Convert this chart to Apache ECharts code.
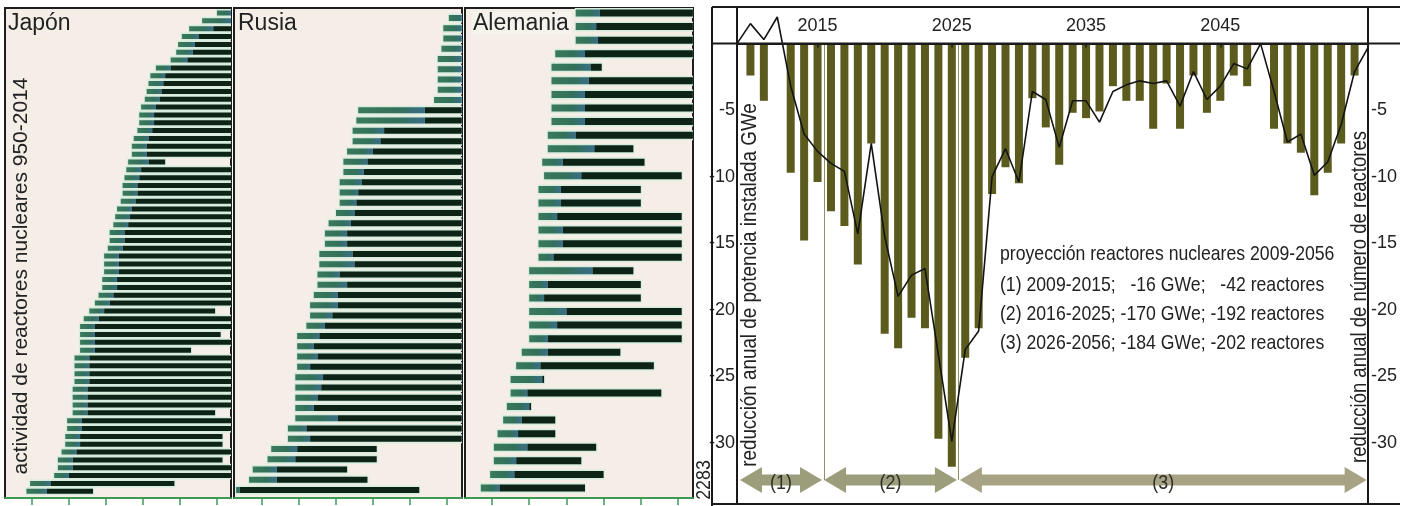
<!DOCTYPE html>
<html><head><meta charset="utf-8">
<script src="https://cdn.jsdelivr.net/npm/echarts@6/dist/echarts.min.js"></script>
<style>html,body{margin:0;padding:0;background:#fff}#c{width:1408px;height:506px}</style>
</head><body><div id="c"></div>
<script>
// ---------- left panels: reactor activity (years) ----------
const panelTicks = [1960, 1970, 1980, 1990, 2000, 2010];

const jpStart = [2010,2006,2002.5,2000.5,1999.5,1999,1997.5,1993.5,1992,1991.5,
  1991,1990.5,1989.5,1989,1989,1988.5,1987.5,1987,1987,1986,
  1985.5,1985,1984.5,1984.5,1984,1983,1982.5,1982,1981,1981,
  1980.5,1979.5,1979.5,1979.5,1979,1979,1978,1977,1975.5,1974,
  1973,1973,1973,1973,1971.5,1971.5,1971.5,1971.5,1971,1971,
  1971,1971,1969.5,1969.5,1969,1969,1968,1967,1967,1966,
  1959.5,1958.5];
const jpOp = [2014,2014,2009,2005,2004,2003.5,2002,1997.5,1996,1995.5,
  1995,1994.5,1993.5,1993,1993,1992.5,1991.5,1991,1991,1991.5,
  1989.5,1989,1988.5,1988.5,1988,1987,1986.5,1986,1985,1985,
  1984.5,1983.5,1983.5,1983.5,1983,1983,1982,1981,1979.5,1978,
  1977,1977,1977,1977,1975.5,1975.5,1975.5,1975.5,1975,1975,
  1975,1975,1973.5,1973.5,1973,1973,1972,1971,1971,1970,
  1965,1964];
const jpEnd = [2014,2014,2014,2014,2014,2014,2014,2014,2014,2014,
  2014,2014,2014,2014,2014,2014,2014,2014,2014,1996,
  2014,2014,2014,2014,2014,2014,2014,2014,2014,2014,
  2014,2014,2014,2014,2014,2014,2014,2014,2009.5,2014,
  2014,2011,2014,2003,2014,2014,2014,2014,2014,2014,
  2014,2009.5,2014,2014,2011.5,2011.5,2014,2011.5,2014,2014,
  1998.5,1976.5];

const ruStart = [2010.5,2009,2009,2008.5,2007.5,2007.5,2007.5,2007.5,2006.5,1986,
  1985.5,1984.5,1984.5,1983,1982,1982,1981,1981,1981,1980,
  1978,1977,1977,1975.5,1975.5,1975,1975,1974,1973,1973,
  1972,1969.5,1969.5,1969.5,1969.5,1969,1969,1969,1969,1969,
  1967,1967,1962.5,1961.5,1957.5,1956.5,1953];
const ruOp = [2014,2014,2014,2014,2014,2014,2014,2014,2014,2004,
  2004,1993,1992,1990,1988.5,1987.5,1987,1986,1985.5,1985,
  1984,1983,1983,1984.5,1985,1981,1983,1980.5,1980.5,1979,
  1977,1975.5,1974,1975,1973,1976.5,1976,1975,1974,1980.5,
  1972,1973,1969.5,1969,1964,1964,1954];
const ruEnd = [2014,2014,2014,2014,2014,2014,2014,2014,2014,2014,
  2014,2014,2014,2014,2014,2014,2014,2014,2014,2014,
  2014,2014,2014,2014,2014,2014,2014,2014,2014,2014,
  2014,2014,2014,2014,2014,2014,2014,2014,2014,2014,
  2014,2014,1991,1991,1983,1988.5,2002.5];

const deStart = [1982.5,1982.5,1982.5,1977,1976,1976,1976,1976,1976,1975,
  1975,1973.5,1974,1972.5,1972.5,1972.5,1972.5,1972.5,1972.5,1970,
  1970,1970,1970,1970,1970,1968,1966.5,1965,1965,1964,
  1963,1961.5,1960.5,1960.5,1959.5,1957];
const deOp = [1989,1988,1988.5,1985,1986.5,1986,1985,1985,1985,1982.5,
  1987.5,1979,1984,1978.5,1978.5,1977.5,1979,1979,1976.5,1987,
  1975,1974,1980,1977.5,1975,1975,1973,1973.5,1969.5,1970,
  1968,1967,1969.5,1966.5,1966,1962];
const deEnd = [2014,2014,2014,2014,1989.5,2014,2014,2014,2014,2014,
  1998,2001,2011,2000,2000,2011,2011,2011,2011,1998,
  2000,2000,2011,2011,2011,1994.5,2003.5,1974,2005.5,1970.5,
  1977,1977,1988,1984,1990,1985];

// ---------- right chart ----------
const barYears = [2010,2011,2012,2013,2014,2015,2016,2017,2018,2019,
  2020,2021,2022,2023,2024,2025,2026,2027,2028,2029,
  2030,2031,2032,2033,2034,2035,2036,2037,2038,2039,
  2040,2041,2042,2043,2044,2045,2046,2047,2048,2049,
  2050,2051,2052,2053,2054,2055];
const barValues = [-2.4,-4.3,0,-9.7,-14.8,-10.4,-12.6,-13.7,-16.6,-7.5,
  -21.8,-22.9,-20.6,-21.4,-29.7,-31.8,-23.6,-21.4,-11.3,-9.3,
  -10.5,-4.1,-6.3,-9.1,-5.2,-5.6,-5.1,-3.2,-4.3,-4.3,
  -6.4,-3.0,-6.4,-2.4,-5.2,-4.3,-2.4,-3.2,0,-6.4,
  -7.5,-8.2,-11.4,-9.7,-7.5,-2.4];
const lineYears = [2009,2010,2011,2012,2013,2014,2015,2016,2017,2018,
  2019,2020,2021,2022,2023,2024,2025,2026,2027,2028,
  2029,2030,2031,2032,2033,2034,2035,2036,2037,2038,
  2039,2040,2041,2042,2043,2044,2045,2046,2047,2048,
  2049,2050,2051,2052,2053,2054,2055,2056];
const lineValues = [0,1.5,0.3,2.0,-3.2,-6.8,-8.1,-9.0,-9.6,-14.3,
  -7.5,-14.5,-19,-17.4,-16.9,-23.4,-29.9,-23,-21.6,-10,
  -7.9,-10.4,-3.6,-4.2,-7.8,-4.3,-4.3,-5.9,-3.6,-3.1,
  -2.8,-3.0,-2.8,-4.7,-2.1,-4.2,-3.2,-1.5,-1.9,0,
  -3.6,-7.4,-6.8,-9.9,-8.9,-6.1,-2.1,-0.3];
const yTicks = [-5,-10,-15,-20,-25,-30];
const xTicks = [2015, 2025, 2035, 2045];
const separators = [2015.5, 2025.5];
const arrowFrom = [2009.22, 2015.48, 2025.6];
const arrowTo = [2015.33, 2025.38, 2055.9];
const arrowLevel = -32.8;
const arrowLabels = ['(1)', '(2)', '(3)'];
const noteLines = [
  'proyección reactores nucleares 2009-2056',
  '(1) 2009-2015;   -16 GWe;   -42 reactores',
  '(2) 2016-2025; -170 GWe; -192 reactores',
  '(3) 2026-2056; -184 GWe; -202 reactores'
];

// ---------- styles / layout ----------
const SANS = "'Liberation Sans',Arial,sans-serif";
const PANEL_BG = '#f4eee7';
const DARK = '#0d2316';
const HALO = '#d6ecdc';
const AXIS_GREEN = '#3d9a55';
const R_TOP = 7, R_H = 497, R_MIN = -34.6, R_MAX = 2.75;
const zeroOffset = -(R_MAX / (R_MAX - R_MIN)) * R_H; // moves the top axis down onto y = 0

const chart = echarts.init(document.getElementById('c'), null, {renderer: 'canvas'});

function lightFill() {
  return new echarts.graphic.LinearGradient(0, 0, 1, 0, [
    {offset: 0, color: '#3b7a5c'}, {offset: 0.6, color: '#33705a'}, {offset: 1, color: '#3a6f88'}
  ]);
}

function panelRender(barH) {
  return function (params, api) {
    const row = api.value(0), s = api.value(1), o = api.value(2), e = api.value(3);
    const p0 = api.coord([s, row]), p1 = api.coord([o, row]), p2 = api.coord([e, row]);
    const cs = params.coordSys;
    const area = {x: cs.x, y: cs.y, width: cs.width, height: cs.height};
    const clip = r => echarts.graphic.clipRectByRect(r, area);
    const ch = [];
    const halo = clip({x: p0[0] - 1, y: p0[1] - barH / 2 - 1.5, width: p2[0] - p0[0] + 2, height: barH + 3});
    if (halo) ch.push({type: 'rect', shape: halo, style: {fill: HALO}});
    if (o > s) {
      const l = clip({x: p0[0], y: p0[1] - barH / 2, width: p1[0] - p0[0], height: barH});
      if (l) ch.push({type: 'rect', shape: l, style: {fill: lightFill()}});
    }
    if (e > o) {
      const d = clip({x: p1[0], y: p1[1] - barH / 2, width: p2[0] - p1[0], height: barH});
      if (d) ch.push({type: 'rect', shape: d, style: {fill: DARK}});
    }
    return {type: 'group', children: ch};
  };
}

function rows(st, op, en) { return st.map((s, i) => [i, s, op[i], en[i]]); }

function panelX(idx, min, max) {
  return {
    gridIndex: idx, type: 'value', min: min, max: max, position: 'bottom',
    axisLine: {show: true, onZero: false, lineStyle: {color: AXIS_GREEN, width: 2}},
    axisTick: {show: true, customValues: panelTicks, length: 7, lineStyle: {color: AXIS_GREEN, width: 1.5}},
    axisLabel: {show: false}, splitLine: {show: false}
  };
}
function panelY(idx, min, max) {
  return {gridIndex: idx, type: 'value', inverse: true, min: min, max: max, show: false};
}
function panelGrid(left, width) {
  return {left: left, top: 8, width: width, height: 490, show: true, outerBoundsMode: 'none', containLabel: false,
    backgroundColor: PANEL_BG, borderColor: '#1e1e1e', borderWidth: 2};
}

const labelStyle = {fontFamily: SANS, fontSize: 18, color: '#222', formatter: v => String(v)};

const option = {
  animation: false,
  backgroundColor: '#ffffff',
  title: [
    {text: 'Japón', left: 8, top: 12, padding: 0, textStyle: {fontFamily: SANS, fontSize: 23, fontWeight: 'normal', color: '#222'}},
    {text: 'Rusia', left: 238, top: 12, padding: 0, textStyle: {fontFamily: SANS, fontSize: 23, fontWeight: 'normal', color: '#222'}},
    {text: 'Alemania', left: 472, top: 12, padding: [0, 2, 0, 1], backgroundColor: '#f6f2ec', textStyle: {fontFamily: SANS, fontSize: 23, fontWeight: 'normal', color: '#222'}}
  ],
  grid: [
    panelGrid(5, 226),
    panelGrid(234, 228),
    panelGrid(465, 228),
    {left: 737, right: 40, top: R_TOP, height: R_H, show: false, outerBoundsMode: 'none', containLabel: false}
  ],
  xAxis: [
    panelX(0, 1952.7, 2013.8),
    panelX(1, 1952.43, 2014.05),
    panelX(2, 1952.74, 2014.03),
    {gridIndex: 3, type: 'value', min: 2009, max: 2056, position: 'top', offset: zeroOffset, z: 8,
      axisLine: {show: true, onZero: false, lineStyle: {color: '#1a1a1a', width: 2}},
      axisTick: {show: true, inside: true, length: 4, customValues: xTicks, lineStyle: {color: '#1a1a1a', width: 1.5}},
      axisLabel: Object.assign({customValues: xTicks, margin: 9, inside: false}, labelStyle),
      splitLine: {show: false}}
  ],
  yAxis: [
    panelY(0, -0.64, 61.86),
    panelY(1, -0.975, 46.78),
    panelY(2, -0.368, 35.74),
    {gridIndex: 3, type: 'value', min: R_MIN, max: R_MAX, position: 'left',
      axisLine: {show: true, onZero: false, lineStyle: {color: '#1a1a1a', width: 2}},
      axisTick: {show: false},
      axisLabel: Object.assign({customValues: yTicks, margin: 2}, labelStyle),
      splitLine: {show: false}},
    {gridIndex: 3, type: 'value', min: R_MIN, max: R_MAX, position: 'right',
      axisLine: {show: true, onZero: false, lineStyle: {color: '#1a1a1a', width: 2}},
      axisTick: {show: false},
      axisLabel: Object.assign({customValues: yTicks, margin: 3}, labelStyle),
      splitLine: {show: false}}
  ],
  series: [
    {type: 'custom', xAxisIndex: 0, yAxisIndex: 0, renderItem: panelRender(5),
      encode: {x: [1, 2, 3], y: 0}, data: rows(jpStart, jpOp, jpEnd), silent: true},
    {type: 'custom', xAxisIndex: 1, yAxisIndex: 1, renderItem: panelRender(6),
      encode: {x: [1, 2, 3], y: 0}, data: rows(ruStart, ruOp, ruEnd), silent: true},
    {type: 'custom', xAxisIndex: 2, yAxisIndex: 2, renderItem: panelRender(7),
      encode: {x: [1, 2, 3], y: 0}, data: rows(deStart, deOp, deEnd), silent: true},
    {type: 'bar', xAxisIndex: 3, yAxisIndex: 3, barWidth: 8,
      itemStyle: {color: '#5b5b1e'},
      data: barYears.map((y, i) => [y, barValues[i]]),
      markLine: {silent: true, symbol: 'none', label: {show: false},
        lineStyle: {color: '#8f8f68', width: 1, type: 'solid'},
        data: separators.map(s => [{coord: [s, 0]}, {coord: [s, arrowLevel]}])}},
    {type: 'line', xAxisIndex: 3, yAxisIndex: 3, showSymbol: false, symbol: 'none',
      lineStyle: {color: '#141414', width: 1.6}, z: 5,
      data: lineYears.map((y, i) => [y, lineValues[i]])},
    {type: 'custom', xAxisIndex: 3, yAxisIndex: 3, z: 6, silent: true,
      encode: {x: [0, 1], y: 2},
      data: arrowFrom.map((a, i) => [a, arrowTo[i], arrowLevel, i]),
      renderItem: function (params, api) {
        const a = api.coord([api.value(0), api.value(2)]);
        const b = api.coord([api.value(1), api.value(2)]);
        const i = api.value(3);
        const hl = 22, hh = 13, sh = 5.5;
        const pts = [
          [a[0], a[1]], [a[0] + hl, a[1] - hh], [a[0] + hl, a[1] - sh],
          [b[0] - hl, b[1] - sh], [b[0] - hl, b[1] - hh], [b[0], b[1]],
          [b[0] - hl, b[1] + hh], [b[0] - hl, b[1] + sh],
          [a[0] + hl, a[1] + sh], [a[0] + hl, a[1] + hh]
        ];
        return {type: 'group', children: [
          {type: 'polygon', shape: {points: pts}, style: {fill: i === 2 ? '#a6a283' : '#9c9e7b'}},
          {type: 'text', x: (a[0] + b[0]) / 2, y: a[1] + 3, scaleX: 0.85,
            style: {text: arrowLabels[i], font: '21px ' + SANS, fill: '#2e2e26',
              align: 'center', verticalAlign: 'middle', textAlign: 'center', textVerticalAlign: 'middle'}}
        ]};
      }}
  ]
};
chart.setOption(option);

// decorations: frame, zero line extension, titles, notes
const zeroY = chart.convertToPixel({xAxisIndex: 3, yAxisIndex: 3}, [2009, 0])[1];
function txt(x, y, text, size, sx, rot, align) {
  return {type: 'text', x: x, y: y, rotation: rot || 0, scaleX: sx, silent: true, z: 10,
    style: {text: text, font: size + 'px ' + SANS, fill: '#222', align: align || 'center', verticalAlign: 'middle',
      textAlign: align || 'center', textVerticalAlign: 'middle'}};
}
const g = [
  {type: 'line', shape: {x1: 712, y1: 7, x2: 1400, y2: 7}, style: {stroke: '#1a1a1a', lineWidth: 2}, z: 10},
  {type: 'line', shape: {x1: 712, y1: 504, x2: 1400, y2: 504}, style: {stroke: '#1a1a1a', lineWidth: 2}, z: 10},
  {type: 'line', shape: {x1: 712, y1: 7, x2: 712, y2: 506}, style: {stroke: '#1a1a1a', lineWidth: 2}, z: 10},
  {type: 'line', shape: {x1: 712, y1: zeroY, x2: 1400, y2: zeroY}, style: {stroke: '#1a1a1a', lineWidth: 2}, z: 10},
  txt(21, 276, 'actividad de reactores nucleares 950-2014', 21, 1, Math.PI / 2),
  txt(750, 285, 'reducción anual de potencia instalada GWe', 22, 0.855, Math.PI / 2),
  txt(1360, 297, 'reducción anual de número de reactores', 22, 0.84, Math.PI / 2),
  txt(704, 480, '2283', 21, 0.85, Math.PI / 2)
];
const noteY = [254, 285, 314, 343];
noteLines.forEach((t, i) => g.push(txt(1000, noteY[i], t, 21, 0.84, 0, 'left')));
chart.setOption({graphic: g});
</script></body></html>
